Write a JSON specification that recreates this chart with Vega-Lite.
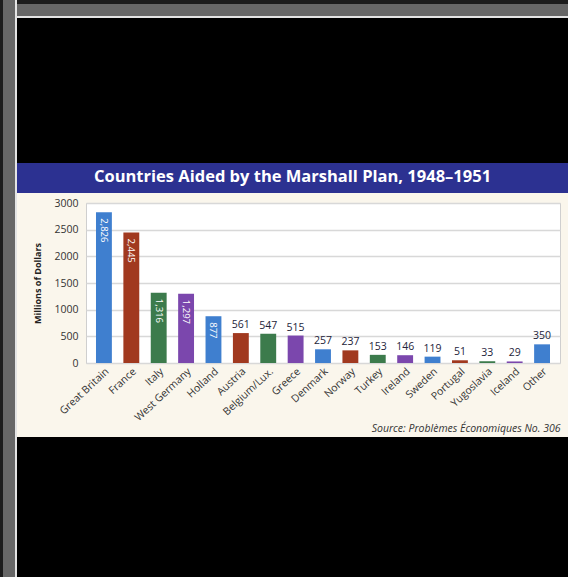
{
  "$schema": "https://vega.github.io/schema/vega-lite/v6.json",
  "background": "#faf6ec",
  "padding": 0,
  "config": {
    "view": {"stroke": null},
    "concat": {"spacing": 0},
    "font": "Open Sans"
  },
  "hconcat": [
    {"width": 3, "height": 577, "view": {"fill": "#1c1c1c", "stroke": null}, "data": {"values": []}, "mark": "point"},
    {"width": 12, "height": 577, "view": {"fill": "#676767", "stroke": null}, "data": {"values": []}, "mark": "point"},
    {"width": 2, "height": 577, "view": {"fill": "#e4e4e4", "stroke": null}, "data": {"values": []}, "mark": "point"},
    {
      "vconcat": [
        {"width": 551, "height": 4, "view": {"fill": "#1c1c1c", "stroke": null}, "data": {"values": []}, "mark": "point"},
        {"width": 551, "height": 12, "view": {"fill": "#676767", "stroke": null}, "data": {"values": []}, "mark": "point"},
        {"width": 551, "height": 2, "view": {"fill": "#e4e4e4", "stroke": null}, "data": {"values": []}, "mark": "point"},
        {"width": 551, "height": 145, "view": {"fill": "#000000", "stroke": null}, "data": {"values": []}, "mark": "point"},
        {
          "width": 551, "height": 30,
          "view": {"fill": "#2c3191", "stroke": null},
          "data": {"values": []},
          "mark": "point",
          "title": {
            "text": "Countries Aided by the Marshall Plan, 1948–1951",
            "orient": "top",
            "offset": -22,
            "anchor": "middle",
            "color": "#ffffff",
            "fontSize": 16.5,
            "fontWeight": "bold",
            "font": "Open Sans"
          }
        },
        {
          "spacing": 15,
          "hconcat": [
            {"width": 1, "height": 244, "view": {"fill": null, "stroke": null}, "data": {"values": []}, "mark": "point"},
            {
              "spacing": 0,
              "vconcat": [
                {"width": 1, "height": 4, "view": {"fill": null, "stroke": null}, "data": {"values": []}, "mark": "point"},
                {
                  "width": 474,
                  "height": 160,
                  "view": {"fill": "#ffffff", "stroke": "#cfcfcf", "strokeWidth": 1},
                  "data": {
                    "values": [
                      {"country": "Great Britain", "value": 2826},
                      {"country": "France", "value": 2445},
                      {"country": "Italy", "value": 1316},
                      {"country": "West Germany", "value": 1297},
                      {"country": "Holland", "value": 877},
                      {"country": "Austria", "value": 561},
                      {"country": "Belgium/Lux.", "value": 547},
                      {"country": "Greece", "value": 515},
                      {"country": "Denmark", "value": 257},
                      {"country": "Norway", "value": 237},
                      {"country": "Turkey", "value": 153},
                      {"country": "Ireland", "value": 146},
                      {"country": "Sweden", "value": 119},
                      {"country": "Portugal", "value": 51},
                      {"country": "Yugoslavia", "value": 33},
                      {"country": "Iceland", "value": 29},
                      {"country": "Other", "value": 350}
                    ]
                  },
                  "encoding": {
                    "x": {
                      "field": "country",
                      "type": "nominal",
                      "sort": null,
                      "scale": {"paddingInner": 0.42, "paddingOuter": 0.365},
                      "axis": {
                        "labelAngle": -43,
                        "labelFontSize": 10.5,
                        "labelColor": "#333333",
                        "labelPadding": 3,
                        "ticks": false,
                        "domain": false,
                        "title": "Source: Problèmes Économiques No. 306",
                        "titleFontStyle": "italic",
                        "titleFontWeight": "normal",
                        "titleFontSize": 10.5,
                        "titleColor": "#333333",
                        "titleAnchor": "end",
                        "titlePadding": 1
                      }
                    },
                    "y": {
                      "field": "value",
                      "type": "quantitative",
                      "scale": {"domain": [0, 3000], "nice": false},
                      "axis": {
                        "values": [0, 500, 1000, 1500, 2000, 2500, 3000],
                        "format": "d",
                        "labelOverlap": false,
                        "labelFontSize": 10.5,
                        "labelColor": "#333333",
                        "labelPadding": 8,
                        "ticks": false,
                        "domain": false,
                        "gridColor": "#d8d8d8",
                        "gridWidth": 1.5,
                        "title": "Millions of Dollars",
                        "titleFontSize": 9,
                        "titleFontWeight": "bold",
                        "titleColor": "#222222",
                        "titlePadding": 11
                      }
                    }
                  },
                  "layer": [
                    {
                      "mark": {"type": "bar"},
                      "encoding": {
                        "color": {
                          "field": "country",
                          "type": "nominal",
                          "sort": null,
                          "legend": null,
                          "scale": {
                            "range": ["#3f7fcf", "#a1391f", "#3c7b4c", "#7b47ad", "#3f7fcf", "#a1391f", "#3c7b4c", "#7b47ad", "#3f7fcf", "#a1391f", "#3c7b4c", "#7b47ad", "#3f7fcf", "#a1391f", "#3c7b4c", "#7b47ad", "#3f7fcf"]
                          }
                        }
                      }
                    },
                    {
                      "transform": [{"filter": "datum.value > 800"}],
                      "mark": {"type": "text", "angle": 90, "align": "left", "baseline": "middle", "dx": 6, "color": "#ffffff", "fontSize": 9.5},
                      "encoding": {
                        "text": {"field": "value", "type": "quantitative", "format": ","}
                      }
                    },
                    {
                      "transform": [{"filter": "datum.value <= 800"}],
                      "mark": {"type": "text", "baseline": "bottom", "dy": -3, "color": "#24243a", "fontSize": 10.5},
                      "encoding": {
                        "text": {"field": "value", "type": "quantitative", "format": ","}
                      }
                    }
                  ]
                }
              ]
            }
          ]
        },
        {"width": 551, "height": 140, "view": {"fill": "#000000", "stroke": null}, "data": {"values": []}, "mark": "point"}
      ]
    }
  ]
}
